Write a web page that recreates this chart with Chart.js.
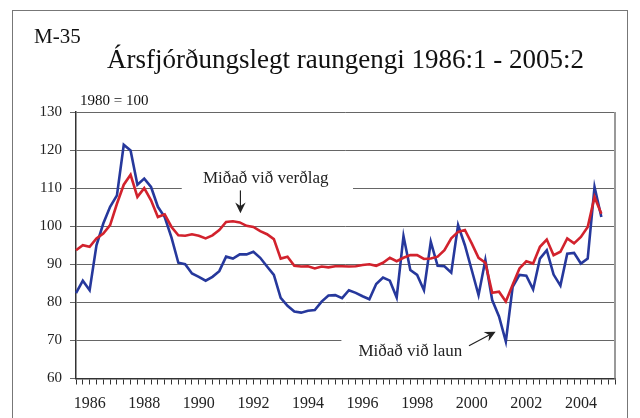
<!DOCTYPE html>
<html>
<head>
<meta charset="utf-8">
<script src="https://cdn.jsdelivr.net/npm/chart.js@4"></script>
<style>
  html, body { margin: 0; padding: 0; background: #fff; }
  #wrap { position: relative; width: 640px; height: 418px; }
  #frame { position: absolute; left: 12px; top: 10px; width: 616px; height: 420px; border: 1px solid #777; box-sizing: border-box; }
  canvas { position: absolute; left: 0; top: 0; }
</style>
</head>
<body>
<div id="wrap">
  <div id="frame"></div>
  <canvas id="LineChart" width="640" height="418"></canvas>
</div>
<script>
// quarterly real exchange rate, 1980 = 100
var years = ['1986','1987','1988','1989','1990','1991','1992','1993','1994','1995',
             '1996','1997','1998','1999','2000','2001','2002','2003','2004','2005'];

// Miðað við verðlag (red), 1986:1 - 2005:2
var verdlag = [93.7, 95.0, 94.6, 96.8, 98.1, 100.3, 105.9, 110.9,
               113.5, 107.7, 110.0, 106.8, 102.4, 103.1, 99.8, 97.6,
               97.5, 97.9, 97.5, 96.8, 97.6, 99.0, 101.1, 101.3,
               101.0, 100.1, 99.8, 98.7, 97.9, 96.6, 91.5, 92.0,
               89.6, 89.4, 89.5, 88.9, 89.4, 89.2, 89.5, 89.5,
               89.4, 89.5, 89.8, 90.0, 89.6, 90.4, 91.7, 90.8,
               91.7, 92.4, 92.4, 91.4, 91.5, 92.0, 93.7, 96.8,
               98.5, 99.0, 95.5, 91.7, 90.4, 82.5, 82.8, 80.2,
               84.6, 88.9, 90.8, 90.2, 94.6, 96.5, 92.4, 93.3,
               96.8, 95.5, 97.2, 99.8, 107.7, 103.3];

// Miðað við laun (blue)
var laun = [82.4, 85.7, 83.2, 95.0, 100.7, 105.1, 108.1, 121.4,
            119.9, 110.9, 112.5, 110.3, 105.1, 102.4, 97.0, 90.4,
            90.0, 87.6, 86.7, 85.7, 86.7, 88.2, 92.0, 91.5,
            92.6, 92.6, 93.3, 91.7, 89.4, 87.2, 81.2, 79.1,
            77.6, 77.3, 77.8, 78.0, 80.2, 81.8, 81.9, 81.1,
            83.2, 82.5, 81.6, 80.8, 84.8, 86.5, 85.7, 81.3,
            97.4, 88.5, 87.2, 83.2, 95.9, 89.6, 89.5, 87.8,
            100.3, 95.0, 88.5, 81.9, 91.1, 80.6, 76.3, 69.7,
            84.1, 87.2, 87.0, 83.4, 91.5, 93.7, 87.3, 84.4,
            92.8, 93.0, 90.2, 91.5, 110.3, 102.4];

var quarters = [];
years.forEach(function (y) {
    for (var q = 1; q <= 4; q++) quarters.push(y + ':' + q);
});

var serif = '"Liberation Serif", "Times New Roman", serif';

// text notes on the plot, placed in axis units (quarter index, index value)
var notes = {
    id: 'notes',
    beforeDatasetsDraw: function (chart) {
        var ctx = chart.ctx, x = chart.scales.x, y = chart.scales.y;
        ctx.save();
        // break the grid lines behind the labels
        ctx.fillStyle = '#fff';
        [[15.5, 40.6, 110], [38.9, 62.9, 70]].forEach(function (g) {
            var x0 = x.getPixelForValue(g[0]), x1 = x.getPixelForValue(g[1]);
            ctx.fillRect(x0, y.getPixelForValue(g[2]) - 3, x1 - x0, 6);
        });
        ctx.fillStyle = '#222';
        ctx.font = '17px ' + serif;
        ctx.textBaseline = 'middle';
        ctx.textAlign = 'center';
        ctx.fillText('Miðað við verðlag', x.getPixelForValue(27.8), y.getPixelForValue(112.4));
        ctx.textAlign = 'left';
        ctx.fillText('Miðað við laun', x.getPixelForValue(41.4), y.getPixelForValue(67.0));
        arrow(ctx, x.getPixelForValue(24.1), y.getPixelForValue(109.4), x.getPixelForValue(24.1), y.getPixelForValue(103.4));
        arrow(ctx, x.getPixelForValue(57.6), y.getPixelForValue(68.6), x.getPixelForValue(61.5), y.getPixelForValue(72.3));
        // right border of the plot
        var a = chart.chartArea;
        ctx.strokeStyle = '#999';
        ctx.lineWidth = 2;
        ctx.beginPath();
        ctx.moveTo(a.right, a.top);
        ctx.lineTo(a.right, a.bottom);
        ctx.stroke();
        ctx.restore();
    },
    afterDraw: function (chart) {
        var ctx = chart.ctx, a = chart.chartArea;
        ctx.save();
        ctx.fillStyle = '#111';
        ctx.textBaseline = 'alphabetic';
        ctx.textAlign = 'left';
        ctx.font = '21px ' + serif;
        ctx.fillText('M-35', 34, 43);
        ctx.font = '15px ' + serif;
        ctx.fillText('1980 = 100', 80, 105);
        ctx.textAlign = 'center';
        ctx.font = '27px ' + serif;
        ctx.fillText('Ársfjórðungslegt raungengi 1986:1 - 2005:2', (a.left + a.right) / 2, 68);
        ctx.restore();
    }
};

function arrow(ctx, x0, y0, x1, y1) {
    var ang = Math.atan2(y1 - y0, x1 - x0), h = 12;
    ctx.strokeStyle = '#222';
    ctx.lineWidth = 1.2;
    ctx.beginPath();
    ctx.moveTo(x0, y0);
    ctx.lineTo(x1 - Math.cos(ang) * h * 0.6, y1 - Math.sin(ang) * h * 0.6);
    ctx.stroke();
    ctx.beginPath();
    ctx.moveTo(x1, y1);
    ctx.lineTo(x1 - h * Math.cos(ang - 0.45), y1 - h * Math.sin(ang - 0.45));
    ctx.lineTo(x1 - h * 0.6 * Math.cos(ang), y1 - h * 0.6 * Math.sin(ang));
    ctx.lineTo(x1 - h * Math.cos(ang + 0.45), y1 - h * Math.sin(ang + 0.45));
    ctx.closePath();
    ctx.fill();
}

const ctx = document.getElementById('LineChart');
new Chart(ctx, {
    type: 'line',
    data: {
        labels: quarters,
        datasets: [{
            label: 'Miðað við verðlag',
            data: verdlag,
            borderColor: '#d2222d',
            borderWidth: 2.6,
            pointRadius: 0,
            tension: 0
        }, {
            label: 'Miðað við laun',
            data: laun,
            borderColor: '#26389c',
            borderWidth: 2.6,
            pointRadius: 0,
            tension: 0
        }]
    },
    options: {
        responsive: false,
        animation: false,
        layout: { padding: { left: 40, right: 25, top: 112, bottom: 0 } },
        plugins: {
            legend: { display: false },
            tooltip: { enabled: false }
        },
        scales: {
            x: {
                offset: false,
                afterFit: function (s) { s.height = 39.5; },
                grid: { drawOnChartArea: false, tickLength: 6, color: '#333', lineWidth: 1 },
                border: { color: '#333', width: 1.5 },
                ticks: {
                    autoSkip: false,
                    maxRotation: 0,
                    minRotation: 0,
                    padding: 10,
                    color: '#222',
                    font: { family: serif, size: 16 },
                    callback: function (v) {
                        var l = this.getLabelForValue(v), yr = l.split(':')[0];
                        return (l.slice(-2) === ':3' && yr % 2 === 0) ? yr : '';
                    }
                }
            },
            y: {
                min: 60,
                max: 130,
                afterFit: function (s) { s.width = 36; },
                grid: { color: '#666', lineWidth: 1, tickLength: 6 },
                border: { color: '#333', width: 1.5 },
                ticks: {
                    stepSize: 10,
                    padding: 8,
                    color: '#222',
                    font: { family: serif, size: 15 }
                }
            }
        }
    },
    plugins: [notes]
});
</script>
</body>
</html>
